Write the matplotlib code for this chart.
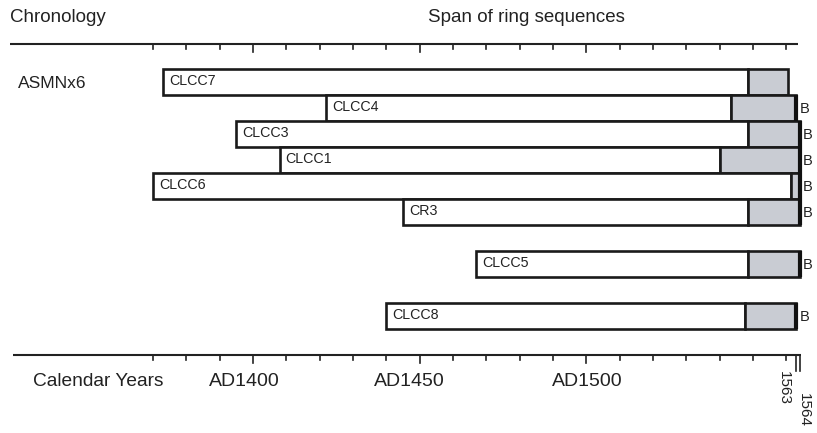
import numpy as np
import matplotlib
matplotlib.use("Agg")
import matplotlib.pyplot as plt

# --- 数据 ---
samples = ["CLCC7", "CLCC4", "CLCC3", "CLCC1", "CLCC6", "CR3", "CLCC5", "CLCC8"]
rows = [0, 1, 2, 3, 4, 5, 7, 9]
first_ring = [1373, 1422, 1395, 1408, 1370, 1445, 1467, 1440]
sapwood_start = [1548.5, 1543.5, 1548.5, 1540, 1561.5, 1548.5, 1548.5, 1547.5]
last_ring = [1560.5, 1563, 1564, 1564, 1564, 1564, 1564, 1563]
bark_edge = [False, True, True, True, True, True, True, True]

tick_years = np.arange(1370, 1561, 10)
major_years = [1400, 1450, 1500]
major_labels = ["AD1400", "AD1450", "AD1500"]
label_pos = [1397.3, 1447.0, 1500.3]   # 原图标签并未严格居中
end_years = [1563, 1564]

FONT = ["Liberation Sans", "DejaVu Sans"]
SAP_COLOR = "#c9ccd3"
INK = "#222222"

fig = plt.figure(figsize=(8.17, 4.33), dpi=100)
ax = fig.add_axes([0, 0, 1, 1])
ax.set_xlim(1324.1, 1569.2)
ax.set_ylim(13.5, -3.154)
ax.axis("off")

# 坐标轴 (上下两条)
top_y = -1.46
bot_y = 10.5
ax.plot([1327, 1563.5], [top_y, top_y], color=INK, lw=1.5, solid_capstyle="butt")
ax.plot([1328, 1564.5], [bot_y, bot_y], color=INK, lw=1.5, solid_capstyle="butt")
for yr in tick_years:
    ln = 0.3 if yr in major_years else 0.2
    ax.plot([yr, yr], [top_y, top_y + ln], color=INK, lw=1.2)
    ax.plot([yr, yr], [bot_y, bot_y + ln], color=INK, lw=1.2)
for yr in end_years:
    ax.plot([yr, yr], [bot_y, bot_y + 0.6], color=INK, lw=1.2)

# 年轮序列条
for name, r, s, sw, e, b in zip(samples, rows, first_ring, sapwood_start, last_ring, bark_edge):
    ax.barh(r, sw - s, left=s, height=1.0, color="white", edgecolor="#1a1a1a", linewidth=1.9)
    ax.barh(r, e - sw, left=sw, height=1.0, color=SAP_COLOR, edgecolor="#1a1a1a", linewidth=1.9)
    ax.text(s + 1.8, r - 0.02, name, fontsize=10.3, family=FONT, va="center", ha="left", color=INK)
    if b:
        ax.plot([e, e], [r - 0.5, r + 0.5], color="#111111", lw=3.0, solid_capstyle="butt")
        ax.text(e + 0.9, r + 0.05, "B", fontsize=10.5, family=FONT, va="center", ha="left", color=INK)

# 文字
ax.text(1327, -2.5, "Chronology", fontsize=13.5, family=FONT, va="center", ha="left", color=INK)
ax.text(1452.5, -2.5, "Span of ring sequences", fontsize=13.5, family=FONT, va="center", ha="left", color=INK)
ax.text(1329.5, 0.07, "ASMNx6", fontsize=12.5, family=FONT, va="center", ha="left", color=INK)
ax.text(1353.5, 11.5, "Calendar Years", fontsize=13.8, family=FONT, va="center", ha="center", color=INK)
for x, lab in zip(label_pos, major_labels):
    ax.text(x, 11.5, lab, fontsize=14, family=FONT, va="center", ha="center", color=INK)
ax.text(1561.3, 11.1, str(end_years[0]), fontsize=11, family=FONT, va="top", ha="right", rotation=-90, color=INK)
ax.text(1563.1, 11.95, str(end_years[1]), fontsize=11, family=FONT, va="top", ha="left", rotation=-90, color=INK)

fig.savefig("out.png", dpi=100)
